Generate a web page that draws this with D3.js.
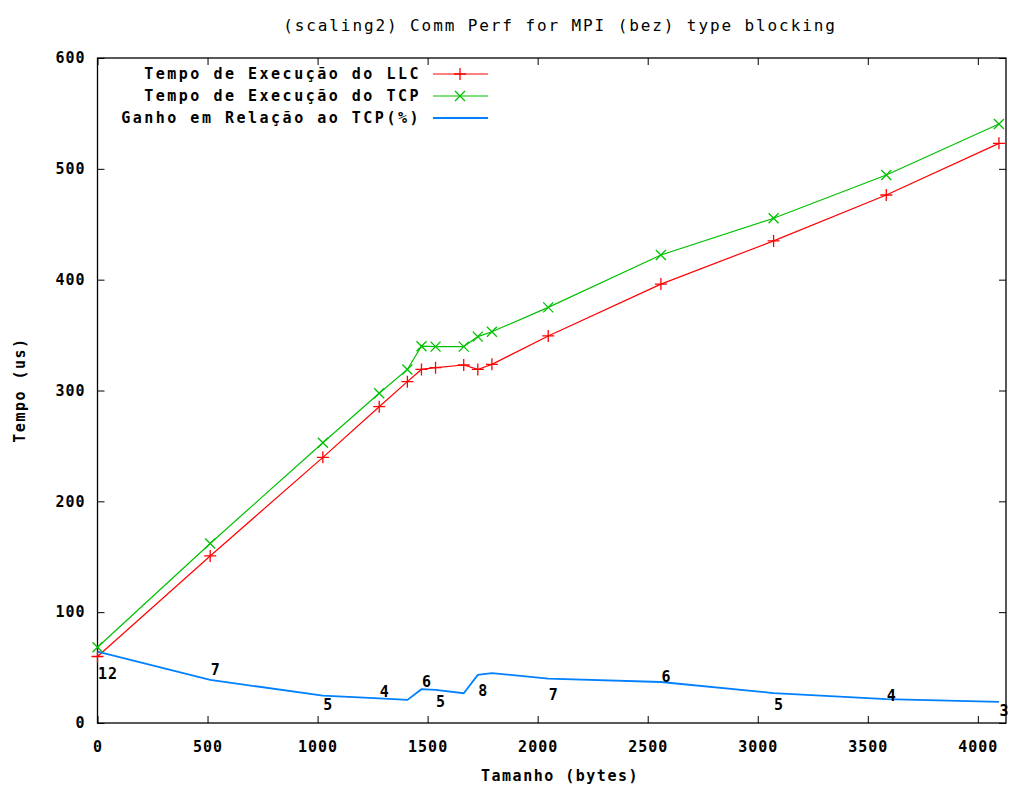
<!DOCTYPE html>
<html>
<head>
<meta charset="utf-8">
<script src="https://cdn.jsdelivr.net/npm/d3@7"></script>
<style>
  body { margin: 0; background: #fff; }
  svg { display: block; }
</style>
</head>
<body>
<svg id="chart" width="1011" height="787"></svg>
<script>
// message sizes (bytes)
const sizes = [0, 512, 1024, 1280, 1408, 1472, 1536, 1664, 1728, 1792, 2048, 2560, 3072, 3584, 4096];
// execution time LLC (us)
const llcTimes = [60, 150.7, 239.7, 285.4, 308, 319, 320.6, 323, 319, 323.6, 349.2, 396, 435, 476.4, 523];
// execution time TCP (us)
const tcpTimes = [68.3, 162, 252.9, 297.5, 319, 340, 339.6, 339.6, 348.6, 353, 375, 422.3, 455.4, 494.4, 540.5];
// gain curve
const gainCurve = [64.3, 38.9, 24.7, 22.3, 20.8, 30.5, 29.9, 26.9, 43.4, 45, 40, 37, 27, 21.5, 19];
// gain labels (%) and where they sit
const labelSizes = [0, 512, 1024, 1280, 1472, 1536, 1728, 2048, 2560, 3072, 3584, 4096];
const labelTexts = ["12", "7", "5", "4", "6", "5", "8", "7", "6", "5", "4", "3"];
const labelY = [44.2, 47.8, 16.2, 28, 37, 19, 28.9, 25.3, 41.5, 16.2, 24.4, 10.8];

const xTicks = [0, 500, 1000, 1500, 2000, 2500, 3000, 3500, 4000];
const yTicks = [0, 100, 200, 300, 400, 500, 600];

const seriesNames = ["Tempo de Execução do LLC", "Tempo de Execução do TCP", "Ganho em Relação ao TCP(%)"];
const seriesColors = ["#ff0000", "#00c000", "#0080ff"];
const seriesWidths = [1.2, 1.2, 1.8];

const svg = d3.select("#chart");
const plotLeft = 97.5, plotRight = 1006, plotTop = 58, plotBottom = 723;
const fontFam = "'DejaVu Sans Mono', monospace";

const x = d3.scaleLinear().domain([0, 4128]).range([plotLeft, plotRight]);
const y = d3.scaleLinear().domain([0, 600]).range([plotBottom, plotTop]);

// title
svg.append("text")
  .attr("x", 560).attr("y", 25)
  .attr("text-anchor", "middle")
  .attr("dominant-baseline", "central")
  .attr("font-family", fontFam)
  .attr("font-size", "16px")
  .attr("letter-spacing", "1.9px")
  .text("(scaling2) Comm Perf for MPI (bez) type blocking");

// axes (ticks point inwards, mirrored on top/right)
function styleAxis(g) {
  g.select(".domain").remove();
  g.selectAll(".tick line").attr("stroke", "#000");
  g.selectAll(".tick text")
    .attr("font-family", fontFam)
    .attr("font-size", "15px")
    .attr("font-weight", "bold")
    .attr("letter-spacing", "1px")
    .attr("fill", "#000");
}

svg.append("g")
  .attr("transform", `translate(0,${plotBottom})`)
  .call(d3.axisBottom(x).tickValues(xTicks).tickSize(-7).tickPadding(18).tickFormat(d3.format("d")))
  .call(styleAxis);
svg.append("g")
  .attr("transform", `translate(0,${plotTop})`)
  .call(d3.axisTop(x).tickValues(xTicks).tickSize(-7).tickFormat(""))
  .call(styleAxis);
svg.append("g")
  .attr("transform", `translate(${plotLeft},0)`)
  .call(d3.axisLeft(y).tickValues(yTicks).tickSize(-7).tickPadding(12).tickFormat(d3.format("d")))
  .call(styleAxis);
svg.append("g")
  .attr("transform", `translate(${plotRight},0)`)
  .call(d3.axisRight(y).tickValues(yTicks).tickSize(-7).tickFormat(""))
  .call(styleAxis);

// border
svg.append("rect")
  .attr("x", plotLeft).attr("y", plotTop)
  .attr("width", plotRight - plotLeft).attr("height", plotBottom - plotTop)
  .attr("fill", "none").attr("stroke", "#000").attr("stroke-width", 1.3);

// axis titles
svg.append("text")
  .attr("x", 560).attr("y", 776)
  .attr("text-anchor", "middle")
  .attr("dominant-baseline", "central")
  .attr("font-family", fontFam)
  .attr("font-size", "15px")
  .attr("font-weight", "bold")
  .attr("letter-spacing", "1.5px")
  .text("Tamanho (bytes)");

svg.append("text")
  .attr("transform", "translate(20,390) rotate(-90)")
  .attr("text-anchor", "middle")
  .attr("dominant-baseline", "central")
  .attr("font-family", fontFam)
  .attr("font-size", "15px")
  .attr("font-weight", "bold")
  .attr("letter-spacing", "1.5px")
  .text("Tempo (us)");

// lines
const line = d3.line().x(d => x(d[0])).y(d => y(d[1]));
const plotSeries = [llcTimes, tcpTimes, gainCurve];

plotSeries.forEach((vals, i) => {
  svg.append("path")
    .datum(sizes.map((s, j) => [s, vals[j]]))
    .attr("d", line)
    .attr("fill", "none")
    .attr("stroke", seriesColors[i])
    .attr("stroke-width", seriesWidths[i]);
});

// markers
function plus(cx, cy, r) { return `M${cx - r},${cy}H${cx + r}M${cx},${cy - r}V${cy + r}`; }
function cross(cx, cy, r) { return `M${cx - r},${cy - r}L${cx + r},${cy + r}M${cx - r},${cy + r}L${cx + r},${cy - r}`; }

svg.append("g").selectAll("path")
  .data(sizes.map((s, j) => [s, llcTimes[j]]))
  .join("path")
  .attr("d", d => plus(x(d[0]), y(d[1]), 6))
  .attr("stroke", seriesColors[0]).attr("stroke-width", 1.3).attr("fill", "none");

svg.append("g").selectAll("path")
  .data(sizes.map((s, j) => [s, tcpTimes[j]]))
  .join("path")
  .attr("d", d => cross(x(d[0]), y(d[1]), 5))
  .attr("stroke", seriesColors[1]).attr("stroke-width", 1.3).attr("fill", "none");

// gain labels
svg.append("g").selectAll("text")
  .data(labelSizes.map((s, j) => ({ x: s, y: labelY[j], t: labelTexts[j] })))
  .join("text")
  .attr("x", d => x(d.x) + 0.5)
  .attr("y", d => y(d.y))
  .attr("dominant-baseline", "central")
  .attr("font-family", fontFam)
  .attr("font-size", "15px")
  .attr("font-weight", "bold")
  .attr("letter-spacing", "1px")
  .text(d => d.t);

// legend
const legend = svg.append("g");
seriesNames.forEach((name, i) => {
  const ly = 74 + i * 22;
  legend.append("text")
    .attr("x", 421).attr("y", ly)
    .attr("text-anchor", "end")
    .attr("dominant-baseline", "central")
    .attr("font-family", fontFam)
    .attr("font-size", "15px")
    .attr("font-weight", "bold")
    .attr("letter-spacing", "2.5px")
    .text(name);
  legend.append("line")
    .attr("x1", 433).attr("x2", 488)
    .attr("y1", ly).attr("y2", ly)
    .attr("stroke", seriesColors[i]).attr("stroke-width", seriesWidths[i]);
  if (i === 0) {
    legend.append("path").attr("d", plus(460, ly, 6))
      .attr("stroke", seriesColors[i]).attr("stroke-width", 1.3);
  } else if (i === 1) {
    legend.append("path").attr("d", cross(460, ly, 5))
      .attr("stroke", seriesColors[i]).attr("stroke-width", 1.3);
  }
});
</script>
</body>
</html>
